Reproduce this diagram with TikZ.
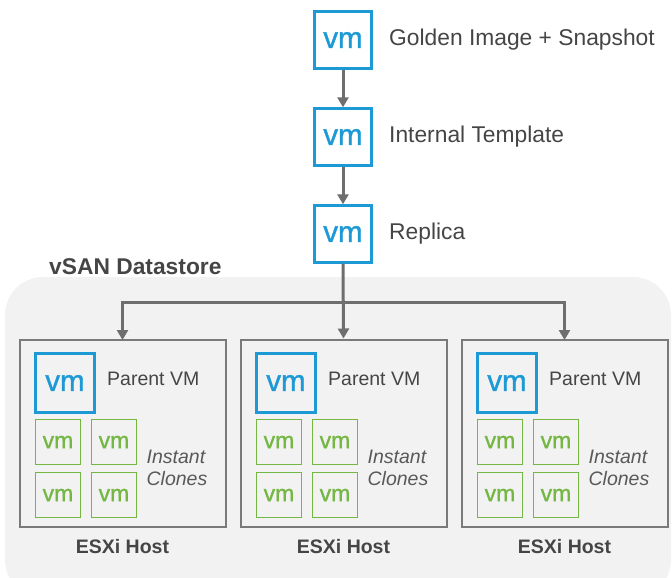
\documentclass[tikz,border=0pt]{standalone}
\usepackage{fontspec}
\setmainfont{Liberation Sans}
\newfontfamily\vmfont{Liberation Sans}[FakeBold=1.1]
\usetikzlibrary{arrows.meta,positioning}
\definecolor{vmblue}{HTML}{1D9AD6}
\definecolor{vmgreen}{HTML}{74B743}
\definecolor{dsbg}{HTML}{F2F2F2}
\definecolor{hostline}{HTML}{7A7A7A}
\definecolor{arrgray}{HTML}{6E6E6E}
\definecolor{txt}{HTML}{454545}
\definecolor{txtl}{HTML}{595959}
\tikzset{
  bigvm/.style={draw=vmblue, line width=2.4pt, fill=white, minimum size=57pt, inner sep=0pt,
    text=vmblue, font=\vmfont\fontsize{29.5}{29.5}\selectfont},
  midvm/.style={bigvm, fill=none, minimum size=59pt},
  smallvm/.style={draw=vmgreen, line width=1.8pt, minimum size=45pt, inner sep=0pt,
    text=vmgreen, font=\vmfont\fontsize{23}{23}\selectfont},
  lbl/.style={anchor=west, inner sep=0pt, text=txt, font=\fontsize{22.8}{22.8}\selectfont},
  plbl/.style={anchor=west, inner sep=0pt, text=txt, font=\fontsize{19.5}{19.5}\selectfont},
  iclbl/.style={inner sep=0pt, text=txtl, align=left, font=\fontsize{19.5}{22}\selectfont\itshape},
  hostlbl/.style={inner sep=0pt, text=txt, font=\fontsize{19.5}{19.5}\selectfont\bfseries},
  hostbox/.style={draw=hostline, line width=2pt, minimum width=206pt, minimum height=187pt, inner sep=0pt},
  arr/.style={draw=arrgray, line width=3pt, -{Triangle[length=10pt,width=11pt]}},
  lin/.style={draw=arrgray, line width=3pt},
}
\begin{document}
\begin{tikzpicture}[x=1pt,y=-1pt]
\useasboundingbox (0,0) rectangle (672,578);
\begin{scope}
\clip (0,0) rectangle (672,578);
\fill[dsbg, rounded corners=38pt] (5,277) rectangle (671,598);
\end{scope}
\node[inner sep=0pt, anchor=west, text=txt, font=\fontsize{22.8}{22.8}\selectfont\bfseries] (ds) at (49,267) {vSAN Datastore};

\node[bigvm] (gi) at (343,40) {vm};
\node[lbl] (gil) at (389,40) {Golden Image + Snapshot};
\node[bigvm] (it) at (343,137) {vm};
\node[lbl] (itl) at (389,137) {Internal Template};
\node[bigvm] (rep) at (343,234) {vm};
\node[lbl] (repl) at (389,234) {Replica};

\draw[arr] (gi.south) -- (it.north);
\draw[arr] (it.south) -- (rep.north);

\foreach \i/\dx in {1/0,2/221,3/442}{
  \node[hostbox] (host\i) at (122.5+\dx,433) {};
  \node[midvm] (pvm\i) at (65+\dx,383) {vm};
  \node[plbl] (pl\i) at (107+\dx,379) {Parent VM};
  \node[smallvm] (c\i a) at (58+\dx,442) {vm};
  \node[smallvm] (c\i b) at (114+\dx,442) {vm};
  \node[smallvm] (c\i c) at (58+\dx,495) {vm};
  \node[smallvm] (c\i d) at (114+\dx,495) {vm};
  \node[iclbl] (ic\i) at (177+\dx,468) {Instant\\Clones};
  \node[hostlbl] (hl\i) at (122.5+\dx,547) {ESXi Host};
}
\coordinate (br) at (343.5,302);
\draw[arr] (rep.south) -- (host2.north);
\draw[lin] (br) -- ++(-221,0) coordinate (brl);
\draw[lin] (br) -- ++(221,0) coordinate (brr);
\draw[arr, line cap=rect] (br) -| ([yshift=-1.5pt]host1.north);
\draw[arr, line cap=rect] (br) -| ([yshift=-1.5pt]host3.north);
\end{tikzpicture}
\end{document}
